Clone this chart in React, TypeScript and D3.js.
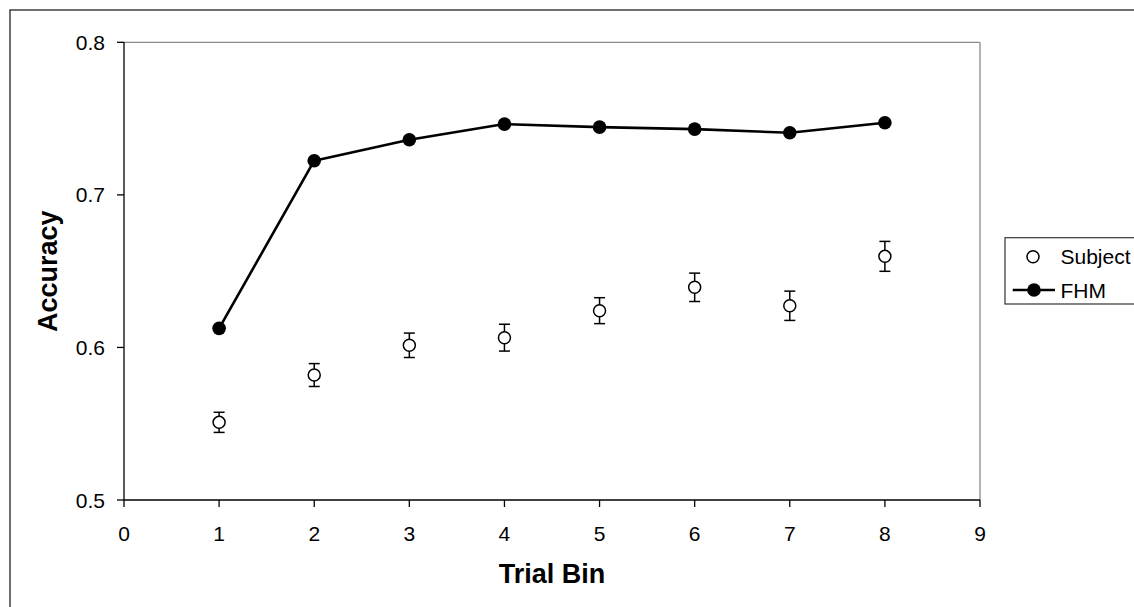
import React from "react";
import * as d3 from "d3";

// Trial bins on the x axis
const bins = [1, 2, 3, 4, 5, 6, 7, 8];
// Observed subject accuracy per bin, with its standard error
const subjectAcc = [0.5509, 0.5819, 0.6014, 0.6064, 0.6241, 0.6394, 0.6273, 0.6597];
const subjectErr = [0.0066, 0.0075, 0.008, 0.0088, 0.0085, 0.0093, 0.0096, 0.0098];
// Model (FHM) accuracy per bin
const fhmAcc = [0.6125, 0.7224, 0.7361, 0.7464, 0.7444, 0.7431, 0.7407, 0.7473];

const xTicks = [0, 1, 2, 3, 4, 5, 6, 7, 8, 9];
const yTicks = [0.5, 0.6, 0.7, 0.8];

const W = 1134;
const H = 607;
const FONT = "'Liberation Sans', Arial, sans-serif";

export default function App() {
  const x = d3.scaleLinear().domain([0, 9]).range([124, 980]);
  const y = d3.scaleLinear().domain([0.5, 0.8]).range([500, 42.3]);

  const fhmLine = d3
    .line<number>()
    .x((_, i) => x(bins[i]))
    .y((d) => y(d))(fhmAcc) as string;

  const [x0, x1] = x.range();
  const [y0, y1] = y.range();

  return (
    <svg
      width={W}
      height={H}
      style={{ position: "absolute", left: 0, top: 0, background: "#fff" }}
      fontFamily={FONT}
    >
      {/* outer frame */}
      <rect x={10} y={10} width={W + 20} height={H + 20} fill="none" stroke="#222" strokeWidth={1.3} />

      {/* plot frame: top and right in grey */}
      <line x1={x0} x2={x1} y1={y1} y2={y1} stroke="#8c8c8c" strokeWidth={1.3} />
      <line x1={x1} x2={x1} y1={y1} y2={y0} stroke="#9a9a9a" strokeWidth={1.5} />

      {/* y axis */}
      <line x1={x0} x2={x0} y1={y1} y2={y0} stroke="#000" strokeWidth={1.3} />
      {yTicks.map((t) => (
        <g key={"y" + t}>
          <line x1={x0 - 7} x2={x0} y1={y(t)} y2={y(t)} stroke="#000" strokeWidth={1.3} />
          <text x={105} y={y(t)} dy="0.36em" textAnchor="end" fontSize={21} fill="#000">
            {t.toFixed(1)}
          </text>
        </g>
      ))}

      {/* x axis */}
      <line x1={x0} x2={x1} y1={y0} y2={y0} stroke="#000" strokeWidth={1.3} />
      {xTicks.map((t) => (
        <g key={"x" + t}>
          <line x1={x(t)} x2={x(t)} y1={y0} y2={y0 + 7} stroke="#000" strokeWidth={1.3} />
          <text x={x(t)} y={540.5} textAnchor="middle" fontSize={21} fill="#000">
            {t}
          </text>
        </g>
      ))}

      {/* axis titles */}
      <text x={552} y={583} textAnchor="middle" fontSize={27} fontWeight="bold" fill="#000">
        Trial Bin
      </text>
      <text
        transform={`translate(56.5, ${(y0 + y1) / 2}) rotate(-90)`}
        textAnchor="middle"
        fontSize={27}
        fontWeight="bold"
        fill="#000"
      >
        Accuracy
      </text>

      {/* FHM model line */}
      <path d={fhmLine} fill="none" stroke="#000" strokeWidth={2.6} strokeLinejoin="round" />
      {fhmAcc.map((v, i) => (
        <circle key={"f" + i} cx={x(bins[i])} cy={y(v)} r={6.8} fill="#000" />
      ))}

      {/* subject points with error bars */}
      {subjectAcc.map((v, i) => {
        const cx = x(bins[i]);
        const top = y(v + subjectErr[i]);
        const bot = y(v - subjectErr[i]);
        return (
          <g key={"s" + i} stroke="#000" strokeWidth={1.5}>
            <line x1={cx} x2={cx} y1={top} y2={bot} />
            <line x1={cx - 5.5} x2={cx + 5.5} y1={top} y2={top} />
            <line x1={cx - 5.5} x2={cx + 5.5} y1={bot} y2={bot} />
            <circle cx={cx} cy={y(v)} r={6} fill="#fff" />
          </g>
        );
      })}

      {/* legend */}
      <rect x={1005} y={237.7} width={160} height={66.3} fill="#fff" stroke="#333" strokeWidth={1.2} />
      <circle cx={1033} cy={256.7} r={6} fill="#fff" stroke="#000" strokeWidth={1.5} />
      <text x={1060.5} y={256.7} dy="0.36em" fontSize={21} fill="#000">
        Subject
      </text>
      <line x1={1012.7} x2={1055} y1={290} y2={290} stroke="#000" strokeWidth={2.6} />
      <circle cx={1034} cy={290} r={6.8} fill="#000" />
      <text x={1060.5} y={290} dy="0.36em" fontSize={21} fill="#000">
        FHM
      </text>
    </svg>
  );
}
